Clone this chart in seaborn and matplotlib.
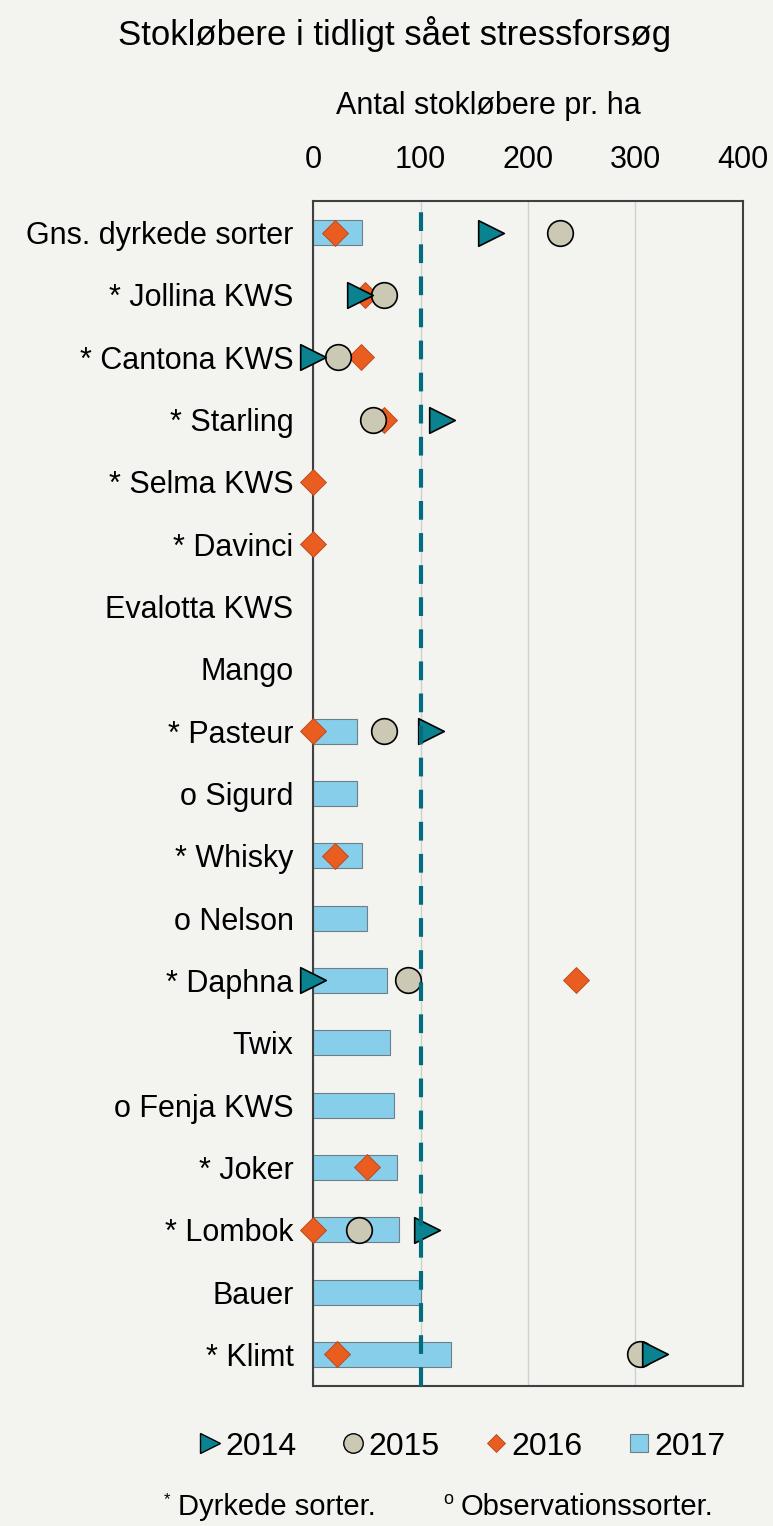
import matplotlib
matplotlib.use("Agg")
import matplotlib.pyplot as plt
from matplotlib.lines import Line2D
import numpy as np
import pandas as pd
import seaborn as sns

# Data
sorter = ["Gns. dyrkede sorter", "* Jollina KWS", "* Cantona KWS", "* Starling",
          "* Selma KWS", "* Davinci", "Evalotta KWS", "Mango", "* Pasteur",
          "o Sigurd", "* Whisky", "o Nelson", "* Daphna", "Twix", "o Fenja KWS",
          "* Joker", "* Lombok", "Bauer", "* Klimt"]
nan = np.nan
v2014 = [166, 44, 0, 120, nan, nan, nan, nan, 110, nan, nan, nan, 0, nan, nan, nan, 106, nan, 318]
v2015 = [230, 66, 23, 56, nan, nan, nan, nan, 66, nan, nan, nan, 88, nan, nan, nan, 43, nan, 304]
v2016 = [20, 48, 45, 66, 0, 0, nan, nan, 0, nan, 20, nan, 245, nan, nan, 50, 0, nan, 22]
v2017 = [46, nan, nan, nan, nan, nan, nan, nan, 41, 41, 46, 50, 69, 72, 75, 78, 80, 100, 128]
ticks = [0, 100, 200, 300, 400]

bg = "#F3F4F0"
c14, c15, c16, c17 = "#0A8290", "#CBC8B4", "#EA5D21", "#87CEEB"

df = pd.DataFrame({"sort": sorter, "pos": np.arange(len(sorter)),
                   "2014": v2014, "2015": v2015, "2016": v2016, "2017": v2017})

sns.set_style("white")
plt.rcParams["font.family"] = ["Liberation Sans", "DejaVu Sans"]
plt.rcParams["text.color"] = "black"
plt.rcParams["axes.labelcolor"] = "black"

fig = plt.figure(figsize=(7.73, 15.26), dpi=100, facecolor=bg)
ax = fig.add_axes([0.405, 0.092, 0.556, 0.776])
ax.set_facecolor(bg)

# 2017 som søjler
bars = df.dropna(subset=["2017"])
sns.barplot(ax=ax, data=bars, x="2017", y="sort", order=sorter, orient="h",
            color=c17, saturation=1, width=0.4, edgecolor="#6F7F86",
            linewidth=0.8, zorder=2)

# 2016, 2015, 2014 som punkter
sns.scatterplot(ax=ax, data=df, x="2016", y="pos", marker="D", s=175, clip_on=False,
                color=c16, edgecolor="#B8451A", linewidth=0.6, zorder=3)
sns.scatterplot(ax=ax, data=df, x="2015", y="pos", marker="o", s=340, clip_on=False,
                color=c15, edgecolor="black", linewidth=1.2, zorder=4)
sns.scatterplot(ax=ax, data=df, x="2014", y="pos", marker=">", s=340, clip_on=False,
                color=c14, edgecolor="black", linewidth=1.2, zorder=5)

ax.axvline(100, color="#006E7F", linewidth=3, dashes=(4.5, 3.2), zorder=6)

ax.set_xlim(0, 400)
ax.set_ylim(len(sorter) - 0.5, -0.5)
ax.set_xticks(ticks)
ax.set_xticklabels([str(t) for t in ticks])
ax.xaxis.tick_top()
ax.xaxis.set_label_position("top")
ax.set_xlabel("Antal stokløbere pr. ha", fontsize=22)
ax.xaxis.set_label_coords(0.407, 1.074)
ax.set_ylabel("")
ax.tick_params(axis="both", length=0, labelsize=22, labelcolor="black")
ax.tick_params(axis="x", pad=19)
ax.tick_params(axis="y", pad=14)
ax.grid(axis="x", color="#CFCFCF", linewidth=1)
ax.set_axisbelow(True)
for sp in ax.spines.values():
    sp.set_visible(True)
    sp.set_color("#404040")
    sp.set_linewidth(1.5)

# Forklaring
handles = [
    Line2D([], [], ls="none", marker=">", ms=14, mfc=c14, mec="black", mew=1),
    Line2D([], [], ls="none", marker="o", ms=14, mfc=c15, mec="black", mew=1),
    Line2D([], [], ls="none", marker="D", ms=9, mfc=c16, mec="#B8451A", mew=0.6),
    Line2D([], [], ls="none", marker="s", ms=13, mfc=c17, mec="#6F7F86", mew=0.8),
]
fig.legend(handles, ["2014", "2015", "2016", "2017"], loc="center",
           bbox_to_anchor=(0.598, 0.052), ncol=4, frameon=False, fontsize=23,
           handlelength=0.7, handletextpad=0.15, columnspacing=1.4)

fig.text(0.511, 0.978, "Stokløbere i tidligt sået stressforsøg", ha="center",
         va="center", fontsize=25)

# Fodnoter
fig.text(0.212, 0.0175, "*", fontsize=12, va="center")
fig.text(0.230, 0.0125, "Dyrkede sorter.", fontsize=21, va="center")
fig.text(0.574, 0.0175, "o", fontsize=13, va="center")
fig.text(0.596, 0.0125, "Observationssorter.", fontsize=21, va="center")

fig.savefig("out.png", dpi=100, facecolor=bg)
